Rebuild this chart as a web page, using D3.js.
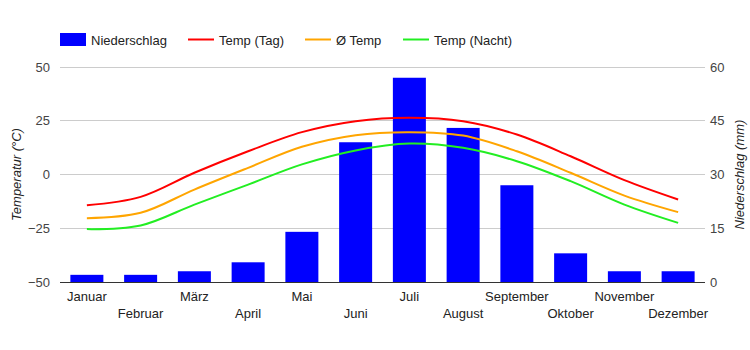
<!DOCTYPE html>
<html>
<head>
<meta charset="utf-8">
<script src="https://cdn.jsdelivr.net/npm/d3@7"></script>
<style>
  body { margin: 0; background: #fff; }
  text { font-family: Arial, "Liberation Sans", sans-serif; }
</style>
</head>
<body>
<div id="chart"></div>
<script>
const months = ["Januar", "Februar", "März", "April", "Mai", "Juni", "Juli", "August", "September", "Oktober", "November", "Dezember"];
const niederschlag = [2, 2, 3, 5.5, 14, 39, 57, 43, 27, 8, 3, 3];
const tempTag = [-14.3, -10.4, 0.8, 10.8, 19.7, 24.8, 26.4, 24.8, 18.6, 8.5, -2.6, -11.6];
const tempAvg = [-20.3, -17.8, -7, 3.1, 12.9, 18.3, 19.7, 18.1, 10.8, 0.8, -9.8, -17.5];
const tempNacht = [-25.4, -23.7, -14, -4.7, 4.7, 11.2, 14.4, 12.4, 6.2, -3.1, -14, -22.5];
const tempTicks = [-50, -25, 0, 25, 50];
const rainTicks = [0, 15, 30, 45, 60];

const W = 750, H = 350;
const plot = {left: 60, right: 705, top: 67, bottom: 282};

const svg = d3.select("#chart").append("svg")
    .attr("width", W)
    .attr("height", H);

const x = d3.scaleBand()
    .domain(months)
    .range([plot.left, plot.right])
    .paddingInner(0.386)
    .paddingOuter(0.193);
const yTemp = d3.scaleLinear().domain([-50, 50]).range([plot.bottom, plot.top]);
const yRain = d3.scaleLinear().domain([0, 60]).range([plot.bottom, plot.top]);

// gridlines
svg.append("g").selectAll("line")
    .data(tempTicks.filter(t => t !== -50))
    .enter().append("line")
    .attr("x1", plot.left).attr("x2", plot.right)
    .attr("y1", d => yTemp(d)).attr("y2", d => yTemp(d))
    .attr("stroke", "#ccc").attr("stroke-width", 1)
    .attr("shape-rendering", "crispEdges");

// left axis
const axisL = svg.append("g")
    .attr("transform", `translate(${plot.left},0)`)
    .call(d3.axisLeft(yTemp).tickValues(tempTicks).tickSize(0).tickPadding(10));
axisL.select(".domain").remove();
axisL.selectAll("text").attr("font-size", 13).attr("fill", "#444").attr("font-family", "Arial, 'Liberation Sans', sans-serif");

// right axis
const axisR = svg.append("g")
    .attr("transform", `translate(${plot.right},0)`)
    .call(d3.axisRight(yRain).tickValues(rainTicks).tickSize(0).tickPadding(5));
axisR.select(".domain").remove();
axisR.selectAll("text").attr("font-size", 13).attr("fill", "#444").attr("font-family", "Arial, 'Liberation Sans', sans-serif");

// bars
svg.append("g").selectAll("rect")
    .data(niederschlag)
    .enter().append("rect")
    .attr("x", (d, i) => x(months[i]))
    .attr("width", x.bandwidth())
    .attr("y", d => yRain(d))
    .attr("height", d => yRain(0) - yRain(d))
    .attr("fill", "#0000ff");

// baseline
svg.append("line")
    .attr("x1", plot.left).attr("x2", plot.right)
    .attr("y1", plot.bottom + 0.5).attr("y2", plot.bottom + 0.5)
    .attr("stroke", "#333").attr("stroke-width", 1);

// lines
const lineGen = d3.line()
    .x((d, i) => x(months[i]) + x.bandwidth() / 2)
    .y(d => yTemp(d))
    .curve(d3.curveCatmullRom.alpha(0.5));

const series = [
    {name: "Temp (Tag)", values: tempTag, color: "#ff0000"},
    {name: "Ø Temp", values: tempAvg, color: "#ffa500"},
    {name: "Temp (Nacht)", values: tempNacht, color: "#22ee22"}
];
series.forEach(s => {
    svg.append("path")
        .attr("d", lineGen(s.values))
        .attr("fill", "none")
        .attr("stroke", s.color)
        .attr("stroke-width", 2);
});

// x labels (staggered)
svg.append("g").selectAll("text")
    .data(months)
    .enter().append("text")
    .attr("x", d => x(d) + x.bandwidth() / 2)
    .attr("y", (d, i) => i % 2 === 0 ? 301 : 318)
    .attr("text-anchor", "middle")
    .attr("font-size", 13)
    .attr("fill", "#222")
    .text(d => d);

// axis titles
svg.append("text")
    .attr("transform", `translate(21,${(plot.top + plot.bottom) / 2}) rotate(-90)`)
    .attr("text-anchor", "middle")
    .attr("font-size", 13)
    .attr("font-style", "italic")
    .attr("fill", "#222")
    .text("Temperatur (°C)");
svg.append("text")
    .attr("transform", `translate(744,${(plot.top + plot.bottom) / 2}) rotate(-90)`)
    .attr("text-anchor", "middle")
    .attr("font-size", 13)
    .attr("font-style", "italic")
    .attr("fill", "#222")
    .text("Niederschlag (mm)");

// legend
const legend = svg.append("g");
legend.append("rect")
    .attr("x", 60).attr("y", 33).attr("width", 26).attr("height", 13)
    .attr("fill", "#0000ff");
legend.append("text")
    .attr("x", 91).attr("y", 44.5)
    .attr("font-size", 13).attr("fill", "#222")
    .text("Niederschlag");
const legendX = [188, 305, 403];
series.forEach((s, i) => {
    legend.append("line")
        .attr("x1", legendX[i]).attr("x2", legendX[i] + 26)
        .attr("y1", 39.5).attr("y2", 39.5)
        .attr("stroke", s.color).attr("stroke-width", 2);
    legend.append("text")
        .attr("x", legendX[i] + 31).attr("y", 44.5)
        .attr("font-size", 13).attr("fill", "#222")
        .text(s.name);
});
</script>
</body>
</html>
